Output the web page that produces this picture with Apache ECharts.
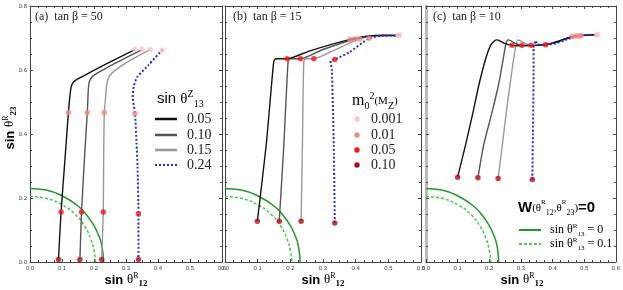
<!DOCTYPE html>
<html><head><meta charset="utf-8">
<script src="https://cdn.jsdelivr.net/npm/echarts@6/dist/echarts.min.js"></script>
<style>html,body{margin:0;padding:0;background:#fff}#c{width:623px;height:290px}</style>
</head><body><div id="c"></div>
<script>
// ---------------- data ----------------
const panelTitles = ['(a)  tan β = 50', '(b)  tan β = 15', '(c)  tan β = 10'];
const xTickLabels = ['0.0', '0.1', '0.2', '0.3', '0.4', '0.5', '0.6'];
const yTickLabels = ['0.0', '0.2', '0.4', '0.6', '0.8'];
const legendZ = ['0.05', '0.10', '0.15', '0.24'];
const legendM = ['0.001', '0.01', '0.05', '0.10'];

// W(θR12,θR23)=0 contours (sin θR13 = 0 and 0.1)
const w_solid = [[0,0.23],[0.05,0.225],[0.1,0.207],[0.15,0.175],[0.18,0.143],[0.2,0.114],[0.215,0.082],[0.225,0.048],[0.23,0]];
const w_dashed = [[0,0.205],[0.05,0.199],[0.1,0.179],[0.14,0.15],[0.17,0.113],[0.19,0.072],[0.2,0.036],[0.205,0]];

// panel (a) tan β = 50
const a_s005 = [[0.328,0.664],[0.27,0.635],[0.219,0.609],[0.165,0.58],[0.14,0.566],[0.13,0.552],[0.126,0.53],[0.12,0.467],[0.11,0.33],[0.097,0.156],[0.089,0.008]];
const a_s010 = [[0.351,0.664],[0.29,0.633],[0.24,0.607],[0.2,0.584],[0.188,0.57],[0.183,0.55],[0.179,0.467],[0.17,0.32],[0.161,0.156],[0.156,0.008]];
const a_s015 = [[0.375,0.664],[0.3125,0.63],[0.265,0.598],[0.246,0.578],[0.24,0.555],[0.235,0.5],[0.232,0.467],[0.23,0.3],[0.229,0.156],[0.224,0.008]];
const a_s024 = [[0.414,0.664],[0.37,0.615],[0.335,0.578],[0.324,0.548],[0.321,0.515],[0.328,0.466],[0.333,0.37],[0.336,0.3],[0.339,0.151],[0.339,0.008]];
const a_m0001 = [[0.328,0.664],[0.351,0.664],[0.375,0.664],[0.414,0.662]];
const a_m001 = [[0.12,0.467],[0.179,0.467],[0.232,0.467],[0.328,0.464]];
const a_m005 = [[0.097,0.156],[0.161,0.156],[0.229,0.156],[0.339,0.151]];
const a_m010 = [[0.089,0.008],[0.156,0.008],[0.224,0.008],[0.339,0.008]];

// panel (b) tan β = 15
const b_s005 = [[0.099,0.127],[0.126,0.364],[0.149,0.625],[0.155,0.635],[0.19,0.635],[0.26,0.66],[0.38,0.695],[0.44,0.706],[0.48,0.709],[0.534,0.708]];
const b_s010 = [[0.166,0.127],[0.18,0.364],[0.193,0.625],[0.198,0.635],[0.231,0.635],[0.3,0.664],[0.398,0.697],[0.45,0.707],[0.534,0.708]];
const b_s015 = [[0.233,0.127],[0.237,0.364],[0.241,0.625],[0.246,0.635],[0.272,0.635],[0.33,0.66],[0.412,0.697],[0.46,0.707],[0.534,0.708]];
const b_s024 = [[0.336,0.122],[0.333,0.364],[0.327,0.6],[0.323,0.628],[0.336,0.633],[0.38,0.655],[0.441,0.699],[0.48,0.707],[0.534,0.708]];
const b_m0001 = [[0.53,0.708],[0.534,0.709]];
const b_m001 = [[0.382,0.695],[0.398,0.697],[0.412,0.697],[0.441,0.699]];
const b_m005 = [[0.19,0.635],[0.231,0.635],[0.272,0.635],[0.336,0.633]];
const b_m010 = [[0.099,0.127],[0.166,0.127],[0.233,0.127],[0.336,0.122]];

// panel (c) tan β = 10
const c_s005 = [[0.1,0.265],[0.126,0.37],[0.148,0.465],[0.168,0.557],[0.19,0.64],[0.204,0.677],[0.215,0.69],[0.225,0.694],[0.235,0.69],[0.246,0.684],[0.272,0.677],[0.3,0.676],[0.35,0.677],[0.4,0.684],[0.459,0.703],[0.5,0.709],[0.543,0.71]];
const c_s010 = [[0.164,0.263],[0.183,0.369],[0.208,0.465],[0.23,0.557],[0.245,0.64],[0.252,0.68],[0.259,0.694],[0.27,0.69],[0.285,0.682],[0.303,0.677],[0.35,0.677],[0.4,0.684],[0.46,0.704],[0.5,0.709],[0.543,0.71]];
const c_s015 = [[0.228,0.261],[0.241,0.364],[0.258,0.5],[0.272,0.6],[0.281,0.66],[0.29,0.694],[0.3,0.69],[0.315,0.682],[0.332,0.677],[0.37,0.678],[0.42,0.69],[0.47,0.705],[0.543,0.71]];
const c_s024 = [[0.336,0.258],[0.338,0.4],[0.34,0.6],[0.34,0.671],[0.347,0.692],[0.352,0.68],[0.378,0.679],[0.41,0.683],[0.449,0.697],[0.49,0.708],[0.543,0.71]];
const c_m0001 = [[0.54,0.71],[0.543,0.71]];
const c_m001 = [[0.462,0.705],[0.475,0.706],[0.485,0.706],[0.49,0.708]];
const c_m005 = [[0.272,0.677],[0.303,0.677],[0.332,0.677],[0.378,0.679]];
const c_m010 = [[0.1,0.265],[0.164,0.263],[0.228,0.261],[0.336,0.258]];

// ---------------- chart ----------------
const curveColors = ['#111111', '#555555', '#999999', '#2b2bd0'];
const markerColors = ['#f8c6ca', '#f28a8a', '#f01818', '#b01018'];
const panels = [
  {s: [a_s005, a_s010, a_s015, a_s024], m: [a_m0001, a_m001, a_m005, a_m010]},
  {s: [b_s005, b_s010, b_s015, b_s024], m: [b_m0001, b_m001, b_m005, b_m010]},
  {s: [c_s005, c_s010, c_s015, c_s024], m: [c_m0001, c_m001, c_m005, c_m010]}
];
const gridBoxes = [
  {left: 30, top: 6, width: 192, height: 256},
  {left: 225, top: 6, width: 196, height: 256},
  {left: 426, top: 6, width: 192, height: 256}
];

const chart = echarts.init(document.getElementById('c'), null, {renderer: 'canvas'});
const grid = [], xAxis = [], yAxis = [], series = [];

gridBoxes.forEach((g, i) => {
  grid.push(Object.assign({containLabel: false}, g));
  const lineCol = '#444';
  const baseX = {
    type: 'value', gridIndex: i, min: 0, max: 0.6, interval: 0.1,
    axisLine: {show: true, onZero: false, lineStyle: {color: lineCol, width: 1}},
    axisTick: {show: true, inside: true, length: 3, lineStyle: {color: lineCol}},
    minorTick: {show: true, splitNumber: 4, length: 2, lineStyle: {color: lineCol}},
    splitLine: {show: false}
  };
  xAxis.push(Object.assign({}, baseX, {
    position: 'bottom',
    axisLabel: {show: true, fontSize: 6, color: '#444', margin: 3, fontFamily: 'Liberation Sans',
      formatter: v => xTickLabels[Math.round(v * 10)]}
  }));
  xAxis.push(Object.assign({}, baseX, {position: 'top', axisLabel: {show: false}}));
  const leftLine = i === 2 ? {color: '#bbbbbb', width: 3} : {color: lineCol, width: 1};
  const baseY = {
    type: 'value', gridIndex: i, min: 0, max: 0.8, interval: 0.2,
    axisTick: {show: true, inside: true, length: 3, lineStyle: {color: lineCol}},
    minorTick: {show: true, splitNumber: 4, length: 2, lineStyle: {color: lineCol}},
    splitLine: {show: false}
  };
  yAxis.push(Object.assign({}, baseY, {
    position: 'left',
    axisLine: {show: true, onZero: false, lineStyle: leftLine},
    axisLabel: {show: i === 0, fontSize: 6, color: '#444', margin: 3, fontFamily: 'Liberation Sans',
      formatter: v => yTickLabels[Math.round(v * 5)]}
  }));
  yAxis.push(Object.assign({}, baseY, {
    position: 'right',
    axisLine: {show: true, onZero: false, lineStyle: {color: lineCol, width: 1}},
    axisLabel: {show: false}
  }));
  const xi = i * 2, yi = i * 2;
  // green contours
  series.push({type: 'line', xAxisIndex: xi, yAxisIndex: yi, data: w_solid, smooth: true, symbol: 'none',
    lineStyle: {color: '#1f9a2a', width: 1.5}, z: 2});
  series.push({type: 'line', xAxisIndex: xi, yAxisIndex: yi, data: w_dashed, smooth: true, symbol: 'none',
    lineStyle: {color: '#3fcc3f', width: 1.5, type: [3, 2]}, z: 2});
  // curves (light gray first, black on top, blue dotted)
  [2, 1, 0, 3].forEach(k => {
    series.push({type: 'line', xAxisIndex: xi, yAxisIndex: yi, data: panels[i].s[k], smooth: 0.2, symbol: 'none',
      lineStyle: k === 3 ? {color: curveColors[k], width: 2, type: [2, 2]} : {color: curveColors[k], width: 1.4}, z: 3});
  });
  // markers
  panels[i].m.forEach((d, k) => {
    series.push({type: 'scatter', xAxisIndex: xi, yAxisIndex: yi, data: d, symbol: 'circle', symbolSize: 5.5,
      itemStyle: {color: markerColors[k]}, z: 5});
  });
});

// rich text styles
const rich = {
  b: {fontFamily: 'Liberation Sans', fontWeight: 'bold', fontSize: 13, color: '#222', lineHeight: 17},
  t: {fontFamily: 'Liberation Serif', fontSize: 13, color: '#222', lineHeight: 17},
  sup: {fontFamily: 'Liberation Serif', fontSize: 8, color: '#222', verticalAlign: 'top', lineHeight: 10},
  sub: {fontFamily: 'Liberation Serif', fontSize: 9, color: '#222', fontWeight: 'bold', verticalAlign: 'bottom', lineHeight: 10},
  ls: {fontFamily: 'Liberation Sans', fontSize: 15, color: '#222', lineHeight: 20},
  lt: {fontFamily: 'Liberation Serif', fontSize: 15, color: '#222', lineHeight: 20},
  lsup: {fontFamily: 'Liberation Serif', fontSize: 10, color: '#222', verticalAlign: 'top', lineHeight: 10},
  lsub: {fontFamily: 'Liberation Serif', fontSize: 10, color: '#222', verticalAlign: 'bottom', lineHeight: 10},
  m: {fontFamily: 'Liberation Serif', fontSize: 16, color: '#222', lineHeight: 20},
  msm: {fontFamily: 'Liberation Serif', fontSize: 11, color: '#222', lineHeight: 20},
  w: {fontFamily: 'Liberation Sans', fontWeight: 'bold', fontSize: 15, color: '#111', lineHeight: 18},
  wsm: {fontFamily: 'Liberation Serif', fontSize: 11, color: '#111', lineHeight: 18},
  wsup: {fontFamily: 'Liberation Serif', fontSize: 7, color: '#111', verticalAlign: 'top', lineHeight: 8},
  wsub: {fontFamily: 'Liberation Serif', fontSize: 8, color: '#111', verticalAlign: 'bottom', lineHeight: 8},
  g: {fontFamily: 'Liberation Serif', fontSize: 12, color: '#555', lineHeight: 15},
  gsup: {fontFamily: 'Liberation Serif', fontSize: 7, color: '#555', verticalAlign: 'top', lineHeight: 7},
  gsub: {fontFamily: 'Liberation Serif', fontSize: 7, color: '#555', verticalAlign: 'bottom', lineHeight: 7}
};

const graphic = [];
const titleX = [35, 233, 433];
panelTitles.forEach((t, i) => {
  graphic.push({type: 'text', x: titleX[i], y: 17, z: 10,
    style: {text: t, fill: '#222', font: '12px "Liberation Serif"', verticalAlign: 'middle'}});
  const g = gridBoxes[i];
  graphic.push({type: 'text', x: g.left + g.width / 2, y: 280, z: 10,
    style: {text: '{b|sin }{t|θ}{sup|R}{sub|12}', rich: rich, align: 'center', verticalAlign: 'middle'}});
});
graphic.push({type: 'text', x: 10, y: 128, rotation: Math.PI / 2, z: 10,
  style: {text: '{b|sin }{t|θ}{sup|R}{sub|23}', rich: rich, align: 'center', verticalAlign: 'middle'}});

// legend (a)
graphic.push({type: 'text', x: 157, y: 99, z: 10,
  style: {text: '{ls|sin }{lt|θ}{lsup|Z}{lsub|13}', rich: rich, verticalAlign: 'middle'}});
const legY = [119, 135, 150, 165];
legendZ.forEach((t, k) => {
  graphic.push({type: 'line', z: 10, shape: {x1: 155, y1: legY[k], x2: 177, y2: legY[k]},
    style: k === 3 ? {stroke: curveColors[k], lineWidth: 2, lineDash: [2, 2]} : {stroke: curveColors[k], lineWidth: 2.5}});
  graphic.push({type: 'text', x: 187, y: legY[k], z: 10,
    style: {text: t, fill: '#222', font: '14px "Liberation Serif"', verticalAlign: 'middle'}});
});
// legend (b)
graphic.push({type: 'text', x: 352, y: 101, z: 10,
  style: {text: '{m|m}{lsub|0}{lsup|2}{msm|(M}{lsub|Z}{msm|)}', rich: rich, verticalAlign: 'middle'}});
legendM.forEach((t, k) => {
  graphic.push({type: 'circle', z: 10, shape: {cx: 357, cy: legY[k], r: 2.7}, style: {fill: markerColors[k]}});
  graphic.push({type: 'text', x: 371, y: legY[k], z: 10,
    style: {text: t, fill: '#222', font: '14px "Liberation Serif"', verticalAlign: 'middle'}});
});
// legend (c)
graphic.push({type: 'text', x: 518, y: 208, z: 10,
  style: {text: '{w|W}{wsm|(θ}{wsup|R}{wsub|12}{wsm|,θ}{wsup|R}{wsub|23}{wsm|)}{w|=0}', rich: rich, verticalAlign: 'middle'}});
const cLegY = [230, 244];
const cLeg = ['{g|sin θ}{gsup|R}{gsub|13}{g| = 0}', '{g|sin θ}{gsup|R}{gsub|13}{g| = 0.1}'];
cLeg.forEach((t, k) => {
  graphic.push({type: 'line', z: 10, shape: {x1: 519, y1: cLegY[k], x2: 541, y2: cLegY[k]},
    style: k === 0 ? {stroke: '#1f9a2a', lineWidth: 2} : {stroke: '#3fcc3f', lineWidth: 2, lineDash: [3, 2]}});
  graphic.push({type: 'text', x: 550, y: cLegY[k], z: 10,
    style: {text: t, rich: rich, verticalAlign: 'middle'}});
});

chart.setOption({
  animation: false,
  backgroundColor: '#fff',
  grid, xAxis, yAxis, series, graphic
});
</script>
</body></html>
